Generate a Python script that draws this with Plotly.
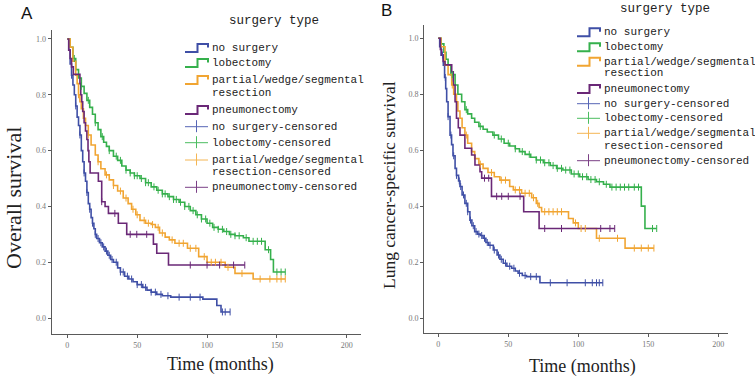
import plotly.graph_objects as go

# ---------------- DATA ----------------
groups = ["no surgery", "lobectomy", "partial/wedge/segmental resection", "pneumonectomy"]

# Panel A: overall survival (time in months, survival probability)
a_nosurg_t = [0, 1, 2, 3, 4, 5, 6, 7, 8, 9, 10, 11, 12, 13, 14, 15, 16, 17, 18, 19, 20, 21, 23, 25, 27, 29, 31, 33, 36, 38, 41, 44, 47, 50, 54, 57, 60, 64, 68, 74, 97, 107, 110, 116.5]
a_nosurg_s = [1.0, 0.96, 0.91, 0.87, 0.835, 0.80, 0.76, 0.72, 0.69, 0.656, 0.60, 0.56, 0.52, 0.49, 0.45, 0.41, 0.39, 0.36, 0.34, 0.32, 0.30, 0.285, 0.27, 0.255, 0.24, 0.225, 0.21, 0.20, 0.18, 0.165, 0.15, 0.14, 0.13, 0.12, 0.11, 0.10, 0.093, 0.085, 0.08, 0.075, 0.068, 0.045, 0.022, 0.022]
a_nosurg_cens = [3, 6, 9, 12, 14, 16, 18, 20, 22, 24, 26, 28, 30, 32, 35, 38, 40, 43, 46, 50, 53, 56, 60, 63, 67, 72, 80, 88, 95, 111, 113, 116.5]

a_lob_t = [0, 2, 4, 6, 8, 10, 12, 14, 16, 18, 20, 22, 24, 26, 28, 30, 33, 36, 39, 42, 45, 48, 52, 56, 60, 64, 68, 72, 76, 80, 84, 88, 92, 96, 100, 104, 108, 112, 116, 120, 126, 130, 141.6, 145.5, 147.5, 156]
a_lob_s = [1.0, 0.97, 0.93, 0.89, 0.86, 0.83, 0.805, 0.78, 0.755, 0.73, 0.70, 0.675, 0.65, 0.63, 0.615, 0.60, 0.58, 0.565, 0.545, 0.53, 0.52, 0.51, 0.50, 0.485, 0.47, 0.458, 0.445, 0.435, 0.425, 0.415, 0.40, 0.385, 0.37, 0.355, 0.34, 0.325, 0.318, 0.31, 0.30, 0.295, 0.288, 0.275, 0.245, 0.21, 0.165, 0.165]
a_lob_cens = [5, 10, 15, 20, 25, 30, 35, 38, 42, 45, 48, 50, 53, 56, 58, 62, 65, 68, 70, 73, 76, 78, 81, 84, 87, 90, 93, 96, 99, 102, 105, 108, 111, 114, 117, 120, 123, 128, 133, 136, 139, 144, 150, 153, 156]

a_part_t = [0, 2, 4, 6, 7, 8, 9, 10, 11.5, 13, 15, 17, 20, 22, 24, 27, 30, 33, 36, 40, 43.5, 46, 49, 52, 56, 60, 63, 66, 70, 73, 77, 86, 94, 100, 113, 120, 133, 156]
a_part_s = [1.0, 0.97, 0.92, 0.87, 0.84, 0.80, 0.775, 0.75, 0.716, 0.69, 0.656, 0.62, 0.584, 0.56, 0.535, 0.513, 0.495, 0.475, 0.455, 0.43, 0.41, 0.39, 0.37, 0.35, 0.34, 0.335, 0.325, 0.305, 0.29, 0.28, 0.268, 0.25, 0.22, 0.20, 0.182, 0.16, 0.14, 0.14]
a_part_cens = [8, 15, 22, 28, 33, 38, 42, 47, 50, 55, 58, 61, 65, 68, 75, 80, 83, 88, 92, 98, 103, 106, 110, 115, 125, 138, 145, 150, 153, 156]

a_pneu_t = [0, 1, 2, 3, 4.3, 9, 9.6, 10.3, 11, 12, 13, 14, 14.8, 15.4, 16.3, 22.2, 24.6, 27, 29.4, 36.5, 42.5, 61.6, 64, 72.4, 127]
a_pneu_s = [1.0, 0.96, 0.93, 0.90, 0.873, 0.84, 0.80, 0.775, 0.74, 0.70, 0.67, 0.64, 0.60, 0.56, 0.52, 0.49, 0.417, 0.40, 0.375, 0.34, 0.30, 0.265, 0.232, 0.19, 0.19]
a_pneu_cens = [24.6, 34, 45, 49.7, 56.8, 88, 100, 109, 119, 127]

# Panel B: lung cancer-specific survival
b_nosurg_t = [0, 1, 2, 3.6, 4.5, 5.3, 6, 7, 8.4, 9.5, 10.5, 12, 13, 14.5, 15.5, 17, 19, 21, 22.6, 24, 26, 28, 30, 32, 34, 36, 39.3, 42, 44, 46.4, 49, 52.4, 55, 57, 60, 63, 72.6, 117.5]
b_nosurg_s = [1.0, 0.97, 0.94, 0.904, 0.86, 0.82, 0.773, 0.72, 0.654, 0.62, 0.58, 0.535, 0.51, 0.49, 0.47, 0.44, 0.41, 0.38, 0.35, 0.33, 0.309, 0.30, 0.295, 0.285, 0.27, 0.26, 0.243, 0.225, 0.21, 0.196, 0.185, 0.178, 0.168, 0.16, 0.152, 0.148, 0.126, 0.126]
b_nosurg_cens = [3, 5, 7, 9, 11, 13, 15, 16, 18, 20, 21, 23, 25, 27, 29, 31, 33, 35, 37, 40, 43, 45, 48, 51, 54, 58, 62, 66, 70, 80, 92, 105, 110, 113, 115, 117.5]

b_lob_t = [0, 2, 4, 5.5, 7, 9, 12, 14, 16.7, 19, 21, 23.8, 26, 29, 32, 35, 39, 43, 47, 51, 55, 58, 62, 66, 70, 75, 80, 84.5, 89, 95, 101, 107, 113, 118, 122.6, 145, 147.6, 156]
b_lob_s = [1.0, 0.98, 0.95, 0.925, 0.904, 0.87, 0.833, 0.80, 0.773, 0.745, 0.73, 0.714, 0.70, 0.685, 0.675, 0.665, 0.654, 0.64, 0.625, 0.615, 0.605, 0.595, 0.585, 0.575, 0.565, 0.555, 0.545, 0.535, 0.529, 0.515, 0.505, 0.495, 0.487, 0.478, 0.468, 0.40, 0.32, 0.32]
b_lob_cens = [10, 20, 30, 40, 45, 50, 55, 60, 65, 70, 73, 76, 79, 82, 85, 88, 91, 94, 97, 100, 103, 106, 109, 112, 115, 120, 124, 127, 130, 133, 136, 140, 143, 153, 156]

b_part_t = [0, 2, 4.8, 7, 9.6, 11, 13, 14, 15.5, 17, 19, 21, 23.8, 26, 29, 32, 35.5, 40, 44, 51, 53.6, 59.5, 66.7, 70, 72, 73.8, 93, 96.4, 100, 113, 133.4, 154]
b_part_s = [1.0, 0.97, 0.904, 0.87, 0.833, 0.80, 0.773, 0.74, 0.714, 0.68, 0.654, 0.625, 0.595, 0.57, 0.55, 0.535, 0.52, 0.505, 0.493, 0.47, 0.458, 0.446, 0.43, 0.41, 0.395, 0.38, 0.356, 0.34, 0.32, 0.285, 0.25, 0.25]
b_part_cens = [10, 20, 30, 38, 45, 48, 55, 58, 62, 65, 68, 71, 76, 79, 82, 85, 88, 98, 102, 105, 115, 128, 140, 145, 150, 154]

b_pneu_t = [0, 1.5, 2.4, 3.5, 4.8, 9.6, 10.7, 12, 13, 14.3, 15.5, 19, 23.8, 26.2, 29.8, 31, 38, 61, 72, 126]
b_pneu_s = [1.0, 0.96, 0.94, 0.917, 0.905, 0.88, 0.833, 0.773, 0.714, 0.68, 0.654, 0.607, 0.583, 0.547, 0.523, 0.50, 0.435, 0.38, 0.32, 0.32]
b_pneu_cens = [33, 36, 41.7, 45.3, 50, 58.4, 76, 88, 116, 122.6, 126]

x_ticks = [0, 50, 100, 150, 200]
y_ticks = [0.0, 0.2, 0.4, 0.6, 0.8, 1.0]

# ---------------- STYLE ----------------
W, H = 755, 382
colors = ["#3f4fa6", "#35b04c", "#f1a532", "#6a2877"]
cens_colors = ["#5766b5", "#4cbd60", "#f4b654", "#7b4086"]
serif = "Liberation Serif"
mono = "Liberation Mono"


def step_val(ts, ss, t):
    v = ss[0]
    for ti, si in zip(ts, ss):
        if ti <= t:
            v = si
    return v


fig = go.Figure()

panels = [
    ("x", "y", [(a_nosurg_t, a_nosurg_s, a_nosurg_cens), (a_lob_t, a_lob_s, a_lob_cens),
                (a_part_t, a_part_s, a_part_cens), (a_pneu_t, a_pneu_s, a_pneu_cens)]),
    ("x2", "y2", [(b_nosurg_t, b_nosurg_s, b_nosurg_cens), (b_lob_t, b_lob_s, b_lob_cens),
                  (b_part_t, b_part_s, b_part_cens), (b_pneu_t, b_pneu_s, b_pneu_cens)]),
]

for xa, ya, series in panels:
    for i, (ts, ss, cens) in enumerate(series):
        fig.add_trace(go.Scatter(
            x=ts, y=ss, mode="lines", line=dict(color=colors[i], width=1.6, shape="hv"),
            name=groups[i], showlegend=False, xaxis=xa, yaxis=ya, hoverinfo="skip"))
    for i, (ts, ss, cens) in enumerate(series):
        fig.add_trace(go.Scatter(
            x=cens, y=[step_val(ts, ss, c) for c in cens], mode="markers",
            marker=dict(symbol="line-ns", size=5, line=dict(color=colors[i], width=1)),
            name=groups[i] + "-censored", showlegend=False, xaxis=xa, yaxis=ya, hoverinfo="skip"))


def px(x):
    return x / W


def py(y):
    return 1 - y / H


axis_common = dict(
    showline=True, linecolor="#5a5a5a", linewidth=1, showgrid=False, zeroline=False,
    ticks="outside", ticklen=3, tickcolor="#5a5a5a", tickwidth=1,
    tickfont=dict(family=serif, size=8, color="#777777"),
)

fig.update_layout(
    width=W, height=H, margin=dict(l=0, r=0, t=0, b=0),
    paper_bgcolor="white", plot_bgcolor="white", showlegend=False,
    xaxis=dict(domain=[px(51.7), px(361)], range=[-11.2, 210.2], tickvals=x_ticks,
               anchor="y", **axis_common),
    yaxis=dict(domain=[py(334), py(30)], range=[-0.057, 1.032], tickvals=y_ticks,
               tickformat=".1f", anchor="x", **axis_common),
    xaxis2=dict(domain=[px(424), px(727.7)], range=[-10.2, 206.7], tickvals=x_ticks,
                anchor="y2", **axis_common),
    yaxis2=dict(domain=[py(333.3), py(25)], range=[-0.0547, 1.0476], tickvals=y_ticks,
                tickformat=".1f", anchor="x2", **axis_common),
)

annotations = []
shapes = []


def text(x, y, s, size, family, color="#222222", xanchor="center", angle=0):
    annotations.append(dict(x=px(x), y=py(y), xref="paper", yref="paper", text=s,
                            showarrow=False, xanchor=xanchor, yanchor="middle",
                            textangle=angle, font=dict(family=family, size=size, color=color)))


# panel letters
text(26.5, 14, "A", 17, "Liberation Sans", "#111111")
text(386, 11, "B", 17, "Liberation Sans", "#111111")

# axis titles
text(13, 198, "Overall survival", 22, serif, "#222222", angle=-90)
text(389, 185, "Lung cancer-specific survival", 17.5, serif, "#222222", angle=-90)
text(220, 364, "Time (months)", 18, serif, "#222222")
text(582, 366, "Time (months)", 18, serif, "#222222")

# legends
legend_rows = [
    ("step", 0, ["no surgery"]),
    ("step", 1, ["lobectomy"]),
    ("step", 2, ["partial/wedge/segmental", "resection"]),
    ("step", 3, ["pneumonectomy"]),
    ("cens", 0, ["no surgery-censored"]),
    ("cens", 1, ["lobectomy-censored"]),
    ("cens", 2, ["partial/wedge/segmental", "resection-censored"]),
    ("cens", 3, ["pneumonectomy-censored"]),
]

legends = [
    dict(title_xy=(274, 21), icon_x=185, text_x=210,
         rows=[48, 63, 80, 110, 126.7, 142.7, 160, 187.3], line2=[None, None, 93.3, None, None, None, 172.3, None]),
    dict(title_xy=(665, 9), icon_x=577, text_x=602,
         rows=[32.3, 47.3, 61.7, 89, 103.7, 118.3, 133.3, 160.7], line2=[None, None, 72.7, None, None, None, 145.7, None]),
]

for lg in legends:
    tx, ty = lg["title_xy"]
    text(tx, ty, "surgery type", 12.5, mono, "#222222")
    x0 = lg["icon_x"]
    for (kind, gi, lines), cy, cy2 in zip(legend_rows, lg["rows"], lg["line2"]):
        if kind == "step":
            path = (f"M {px(x0)},{py(cy + 4)} L {px(x0 + 12.5)},{py(cy + 4)} "
                    f"L {px(x0 + 12.5)},{py(cy - 4)} L {px(x0 + 23)},{py(cy - 4)} "
                    f"L {px(x0 + 23)},{py(cy - 0.5)}")
            shapes.append(dict(type="path", path=path, xref="paper", yref="paper",
                               line=dict(color=colors[gi], width=2)))
        else:
            shapes.append(dict(type="line", xref="paper", yref="paper",
                               x0=px(x0), x1=px(x0 + 23), y0=py(cy), y1=py(cy),
                               line=dict(color=cens_colors[gi], width=1)))
            shapes.append(dict(type="line", xref="paper", yref="paper",
                               x0=px(x0 + 11.5), x1=px(x0 + 11.5), y0=py(cy - 6.5), y1=py(cy + 5.5),
                               line=dict(color=cens_colors[gi], width=1)))
        text(lg["text_x"], cy, lines[0], 11, mono, "#222222", xanchor="left")
        if len(lines) > 1:
            text(lg["text_x"], cy2, lines[1], 11, mono, "#222222", xanchor="left")

fig.update_layout(annotations=annotations, shapes=shapes)
fig.write_html("out.html", config={"displayModeBar": False},
               post_script="document.body.style.margin='0';document.body.style.overflow='hidden';")
